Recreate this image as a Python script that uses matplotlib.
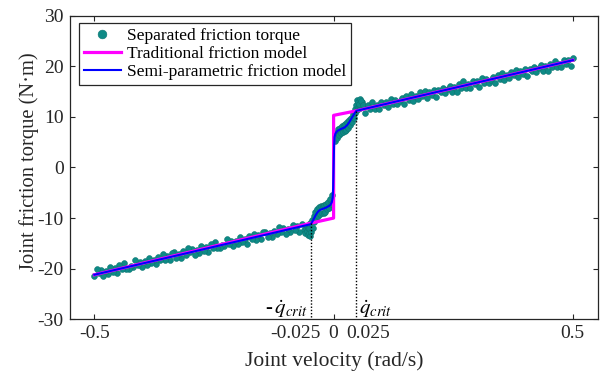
import numpy as np
import matplotlib
matplotlib.use("Agg")
import matplotlib.pyplot as plt
import matplotlib.transforms as mtransforms

plt.rcParams['font.family'] = ['Liberation Serif', 'DejaVu Serif']
plt.rcParams['mathtext.fontset'] = 'stix'
plt.rcParams['axes.unicode_minus'] = False

# ---- data ----
# separated friction torque (scatter), outer negative branch
vel_neg = [-0.030, -0.035, -0.040, -0.045, -0.050, -0.055, -0.060, -0.065, -0.070, -0.075,
           -0.080, -0.085, -0.090, -0.095, -0.100, -0.105, -0.110, -0.115, -0.120, -0.125,
           -0.130, -0.135, -0.140, -0.145, -0.150, -0.155, -0.160, -0.165, -0.170, -0.175,
           -0.180, -0.185, -0.190, -0.195, -0.200, -0.205, -0.210, -0.215, -0.220, -0.225,
           -0.230, -0.235, -0.240, -0.245, -0.250, -0.255, -0.260, -0.265, -0.270, -0.275,
           -0.280, -0.285, -0.290, -0.295, -0.300, -0.305, -0.310, -0.315, -0.320, -0.325,
           -0.330, -0.335, -0.340, -0.345, -0.350, -0.355, -0.360, -0.365, -0.370, -0.375,
           -0.380, -0.385, -0.390, -0.395, -0.400, -0.405, -0.410, -0.415, -0.420, -0.425,
           -0.430, -0.435, -0.440, -0.445, -0.450, -0.455, -0.460, -0.465, -0.470, -0.475,
           -0.480, -0.485, -0.490, -0.495, -0.500]
torque_neg = [-12.8, -12.2, -12.4, -11.1, -12.7, -11.6, -12.4, -11.4, -12.8, -12.2,
              -13.2, -12.0, -12.7, -11.8, -13.1, -12.5, -13.7, -12.9, -13.7, -12.7,
              -12.8, -14.2, -13.4, -14.3, -13.1, -14.2, -13.6, -15.1, -14.2, -14.8,
              -13.8, -15.2, -14.5, -15.6, -14.5, -15.1, -14.2, -15.5, -15.3, -16.0,
              -16.0, -14.8, -15.9, -15.2, -16.8, -15.7, -16.5, -15.5, -16.9, -16.3,
              -17.3, -16.1, -16.8, -15.9, -17.2, -16.6, -17.8, -17.0, -17.8, -16.8,
              -16.9, -18.3, -17.4, -18.3, -17.1, -18.2, -17.6, -19.1, -18.2, -18.8,
              -17.8, -19.2, -18.5, -19.7, -18.6, -19.2, -18.3, -19.6, -19.4, -20.1,
              -20.1, -18.9, -20.0, -19.3, -20.9, -19.8, -20.6, -19.6, -21.0, -20.4,
              -21.4, -20.2, -20.9, -20.0, -21.4]
# outer positive branch
vel_pos = [0.030, 0.035, 0.040, 0.045, 0.050, 0.055, 0.060, 0.065, 0.070, 0.075,
           0.080, 0.085, 0.090, 0.095, 0.100, 0.105, 0.110, 0.115, 0.120, 0.125,
           0.130, 0.135, 0.140, 0.145, 0.150, 0.155, 0.160, 0.165, 0.170, 0.175,
           0.180, 0.185, 0.190, 0.195, 0.200, 0.205, 0.210, 0.215, 0.220, 0.225,
           0.230, 0.235, 0.240, 0.245, 0.250, 0.255, 0.260, 0.265, 0.270, 0.275,
           0.280, 0.285, 0.290, 0.295, 0.300, 0.305, 0.310, 0.315, 0.320, 0.325,
           0.330, 0.335, 0.340, 0.345, 0.350, 0.355, 0.360, 0.365, 0.370, 0.375,
           0.380, 0.385, 0.390, 0.395, 0.400, 0.405, 0.410, 0.415, 0.420, 0.425,
           0.430, 0.435, 0.440, 0.445, 0.450, 0.455, 0.460, 0.465, 0.470, 0.475,
           0.480, 0.485, 0.490, 0.495, 0.500]
torque_pos = [12.6, 13.1, 12.3, 10.8, 12.3, 11.6, 12.9, 11.6, 12.3, 11.6,
              13.0, 12.3, 13.0, 11.9, 13.6, 12.5, 13.3, 12.5, 13.2, 13.8,
              12.6, 14.1, 13.3, 14.6, 13.2, 14.2, 13.6, 14.9, 14.2, 15.2,
              13.8, 15.0, 14.3, 15.3, 14.0, 15.3, 14.9, 15.8, 14.8, 15.5,
              16.2, 15.0, 15.9, 14.9, 16.4, 15.7, 17.0, 15.7, 16.4, 15.7,
              17.1, 16.4, 17.1, 16.0, 17.7, 16.6, 17.4, 16.6, 17.3, 17.9,
              16.7, 18.2, 17.4, 18.7, 17.3, 18.2, 17.6, 18.9, 18.2, 19.2,
              17.8, 19.0, 18.4, 19.4, 18.1, 19.4, 19.0, 19.9, 18.9, 19.6,
              20.3, 19.1, 20.0, 19.0, 20.5, 19.8, 21.1, 19.8, 20.5, 19.8,
              21.2, 20.5, 21.2, 20.1, 21.6]
# central (low-velocity) region
vel_mid = [-0.038, -0.036, -0.034, -0.033, -0.032, -0.031, -0.029, -0.028, -0.027, -0.026,
           -0.025, -0.024, -0.023, -0.022, -0.021, -0.020, -0.019, -0.018, -0.017, -0.016,
           -0.015, -0.014, -0.013, -0.012, -0.011, -0.010, -0.009, -0.008, -0.007, -0.006,
           -0.005, -0.004, -0.003, -0.002,
           0.002, 0.003, 0.004, 0.005, 0.006, 0.007, 0.008, 0.009, 0.010, 0.011,
           0.012, 0.013, 0.014, 0.015, 0.016, 0.017, 0.018, 0.019, 0.020, 0.021,
           0.022, 0.023, 0.024, 0.025, 0.026, 0.027, 0.028, 0.029, 0.031, 0.032,
           0.033, 0.034, 0.036, 0.038]
torque_mid = [-12.9, -11.9, -12.6, -11.6, -13.3, -12.0, -12.9, -11.9, -13.5, -11.0,
              -12.8, -10.4, -11.9, -9.5, -10.8, -8.8, -10.0, -8.3, -9.5, -7.9,
              -9.2, -7.7, -9.0, -7.6, -8.9, -7.4, -8.7, -7.2, -8.3, -6.9,
              -8.0, -6.3, -7.2, -5.5,
              5.2, 6.8, 5.9, 7.6, 6.5, 7.9, 6.8, 8.2, 7.1, 8.4,
              7.3, 8.6, 7.5, 8.9, 7.8, 9.3, 8.4, 9.8, 8.9, 10.6,
              9.8, 11.5, 10.7, 12.4, 11.3, 13.4, 12.0, 13.0, 12.2, 13.6,
              11.8, 12.8, 12.1, 13.0]

# traditional friction model
vel_trad = [-0.5, -0.025, 0.0, 0.0, 0.025, 0.5]
torque_trad = [-21.2, -11.0, -10.0, 10.3, 11.2, 21.2]

# semi-parametric friction model
vel_semi = [-0.5, -0.025, -0.023, -0.021, -0.019, -0.017, -0.015, -0.012, -0.008, -0.004,
            -0.002, -0.001, -0.0005, 0.0, 0.0005, 0.001, 0.002, 0.004, 0.008, 0.012,
            0.015, 0.017, 0.019, 0.021, 0.023, 0.025, 0.5]
torque_semi = [-21.2, -11.2, -10.6, -9.9, -9.2, -8.7, -8.4, -8.2, -7.9, -7.5,
               -6.9, -6.0, -4.0, 0.0, 4.0, 6.0, 6.7, 7.2, 7.6, 7.9,
               8.4, 8.9, 9.5, 10.1, 10.7, 11.2, 21.2]

v_crit = 0.025
xtick_major = [-0.5, 0.0, 0.5]
xtick_major_labels = ['-0.5', '0', '0.5']
xtick_crit = [-0.025, 0.025]
xtick_crit_labels = ['-0.025', '0.025']
ytick_vals = [-30, -20, -10, 0, 10, 20, 30]


# piecewise-linear axis: the region |v| <= 0.025 is stretched 2x
def fwd(v):
    v = np.asarray(v, dtype=float)
    a = np.abs(v)
    return np.sign(v) * np.where(a <= 0.025, 2 * a, a + 0.025)


def inv(t):
    t = np.asarray(t, dtype=float)
    a = np.abs(t)
    return np.sign(t) * np.where(a <= 0.05, a / 2, a - 0.025)


fig = plt.figure(figsize=(6.04, 3.74), dpi=100)
ax = fig.add_axes([0.1159, 0.1463, 0.8747, 0.8118])
ax.set_xscale('function', functions=(fwd, inv))

teal = '#0e8a86'
vel_all = vel_neg + vel_mid + vel_pos
torque_all = torque_neg + torque_mid + torque_pos
ax.plot(vel_all, torque_all, 'o', ms=4.2, mfc=teal, mec='#0b7571', mew=0.4,
        ls='none', label='Separated friction torque', zorder=2)
ax.plot(vel_trad, torque_trad, color='#ff00ff', lw=2.3,
        label='Traditional friction model', zorder=3)
ax.plot(vel_semi, torque_semi, color='#0000ff', lw=1.5,
        label='Semi-parametric friction model', zorder=4)

# critical velocity markers
ax.plot([-v_crit, -v_crit], [-11.0, -30], color='k', lw=1.0, ls=(0, (1, 1.3)), zorder=5)
ax.plot([v_crit, v_crit], [11.2, -30], color='k', lw=1.0, ls=(0, (1, 1.3)), zorder=5)
ax.text(-0.0325, -27.9, r'-$\,\dot{q}_{crit}$', ha='right', va='center', fontsize=15)
ax.text(0.0305, -27.9, r'$\dot{q}_{crit}$', ha='left', va='center', fontsize=15)

ax.set_xlim(-0.5535, 0.556)
ax.set_ylim(-30, 30)
ax.set_xticks(xtick_major)
ax.set_xticklabels(xtick_major_labels)
ax.set_xticks(xtick_crit, minor=True)
ax.set_xticklabels(xtick_crit_labels, minor=True)
ax.set_yticks(ytick_vals)
ax.tick_params(which='major', direction='in', length=3.5, width=0.8, top=True, right=True,
               labelsize=14, colors='#262626')
ax.tick_params(which='minor', direction='in', length=0, top=False, right=False,
               labelsize=14, colors='#262626')
ax.tick_params(axis='x', which='both', pad=4)
ax.tick_params(axis='y', pad=4.5)
# shift the crit labels sideways so they clear the "0" label
for lbl, dx in zip(ax.xaxis.get_minorticklabels(), [-10.8, 8.3]):
    lbl.set_transform(lbl.get_transform() +
                      mtransforms.ScaledTranslation(dx / 72, 0, fig.dpi_scale_trans))
for s in ax.spines.values():
    s.set_color('#262626')
    s.set_linewidth(0.9)

ax.set_xlabel('Joint velocity (rad/s)', fontsize=15.5, color='#262626')
ax.set_ylabel('Joint friction torque (N·m)', fontsize=14.8, color='#262626')
ax.xaxis.set_label_coords(0.4997, -0.106)
ax.xaxis.label.set_va('top')
ax.yaxis.set_label_coords(-0.058, 0.52)

leg = ax.legend(loc='upper left', bbox_to_anchor=(0.017, 0.977), borderaxespad=0,
                fontsize=12.5, frameon=True, fancybox=False, framealpha=1,
                edgecolor='#262626', labelspacing=0.1, borderpad=0.3,
                handlelength=2.1, handletextpad=0.35, markerscale=1.5)
leg.get_frame().set_linewidth(0.9)

fig.savefig('out.png', dpi=100)
